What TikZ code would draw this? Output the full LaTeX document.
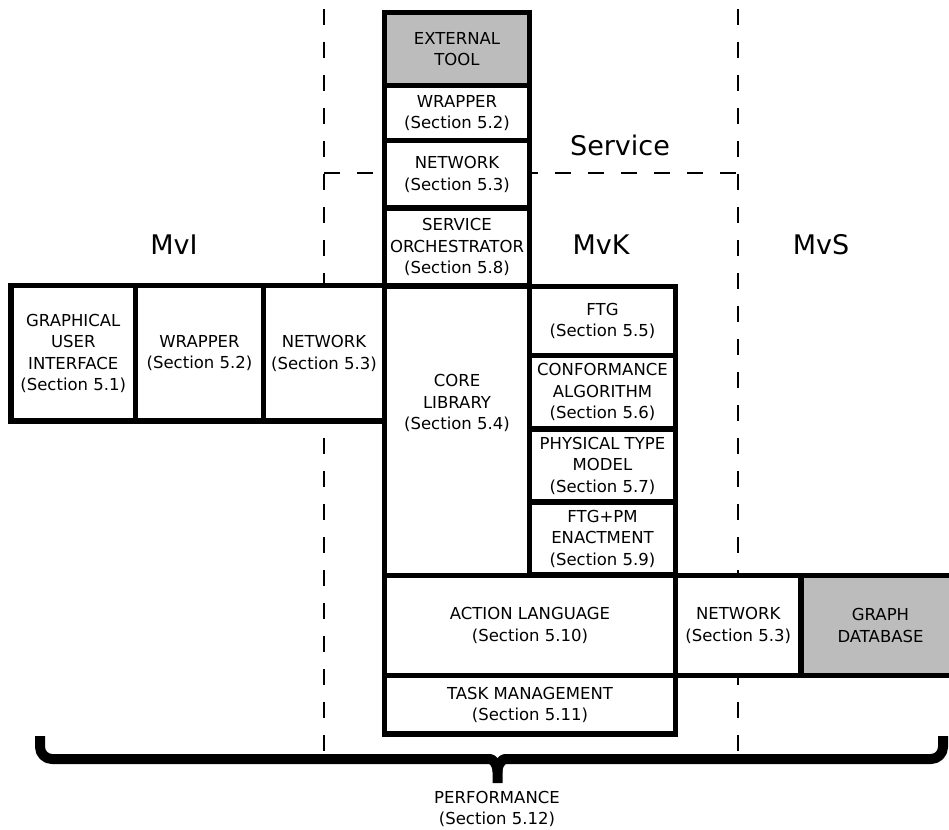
\documentclass[tikz,border=0pt]{standalone}
\usepackage{fontspec}
\setmainfont{DejaVu Sans}
\begin{document}
\begin{tikzpicture}[x=1pt,y=-1pt,
  blk/.style={draw, line width=5.5pt, fill=white, align=center, inner sep=0pt,
              font=\fontsize{16.5}{21.5}\selectfont},
  ext/.style={blk, fill=extgrey},
  txt/.style={align=center, inner sep=0pt, font=\fontsize{16.5}{21.5}\selectfont},
  zone/.style={anchor=base, inner sep=0pt, font=\fontsize{27}{30}\selectfont},
  divider/.style={line width=2.2pt, dash pattern=on 16pt off 17pt},
  bracket/.style={line width=10pt, line join=round}]
\definecolor{extgrey}{RGB}{188,188,188}
\useasboundingbox (0,0) rectangle (949,829);

% zone boundaries
\coordinate (lt) at (324,9);
\coordinate (lb) at (324,760);
\coordinate (rt) at (738,9);
\coordinate (rb) at (738,760);
\coordinate (sl) at (324,173);
\coordinate (sr) at (738,173);
\draw[divider] (lt) -- (lb);
\draw[divider] (rt) -- (rb);
\draw[divider] (sl) -- (sr);

% zone titles
\node[zone] (service) at (620,156) {Service};
\node[zone] (mvi) at (174,254) {MvI};
\node[zone] (mvk) at (601,254) {MvK};
\node[zone] (mvs) at (821,254) {MvS};

% service column
\node[ext, minimum width=145pt, minimum height=73pt] (tool) at (457,49) {EXTERNAL\\TOOL};
\node[blk, minimum width=145pt, minimum height=55pt] (wrapS) at (457,113) {WRAPPER\\(Section 5.2)};
\node[blk, minimum width=145pt, minimum height=67.5pt] (netS) at (457,174.25) {NETWORK\\(Section 5.3)};
\node[blk, minimum width=145pt, minimum height=78pt] (orch) at (457,247) {SERVICE\\ORCHESTRATOR\\(Section 5.8)};

% interface row
\node[blk, minimum width=124.5pt, minimum height=135.5pt] (gui) at (73.25,353.25) {GRAPHICAL\\USER\\INTERFACE\\(Section 5.1)};
\node[blk, minimum width=128pt, minimum height=135.5pt] (wrapI) at (199.5,353.25) {WRAPPER\\(Section 5.2)};
\node[blk, minimum width=121pt, minimum height=135.5pt] (netI) at (324,353.25) {NETWORK\\(Section 5.3)};

% kernel
\node[blk, minimum width=145pt, minimum height=289.5pt] (core) at (457,430.75) {};
\node[txt] (coretxt) at (457,403) {CORE\\LIBRARY\\(Section 5.4)};
\node[blk, minimum width=146pt, minimum height=69pt] (ftg) at (602.5,321) {FTG\\(Section 5.5)};
\node[blk, minimum width=146pt, minimum height=73.5pt] (conf) at (602.5,392.25) {CONFORMANCE\\ALGORITHM\\(Section 5.6)};
\node[blk, minimum width=146pt, minimum height=73pt] (ptm) at (602.5,465.5) {PHYSICAL TYPE\\MODEL\\(Section 5.7)};
\node[blk, minimum width=146pt, minimum height=73pt] (enact) at (602.5,538.5) {FTG+PM\\ENACTMENT\\(Section 5.9)};

% action language, storage row, task management
\node[blk, minimum width=291pt, minimum height=100pt] (action) at (530,625.5) {ACTION LANGUAGE\\(Section 5.10)};
\node[blk, minimum width=125.5pt, minimum height=100pt] (netD) at (738.25,625.5) {NETWORK\\(Section 5.3)};
\node[ext, minimum width=159pt, minimum height=100pt] (gdb) at (880.5,625.5) {GRAPH\\DATABASE};
\node[blk, minimum width=291pt, minimum height=58.5pt] (task) at (530,704.75) {TASK MANAGEMENT\\(Section 5.11)};

% performance brace
\coordinate (bl) at (40,736);
\coordinate (br) at (943,736);
\coordinate (btip) at (497.5,783);
\draw[bracket] (bl) [rounded corners=12pt] -- (40,759) -- (478,759) [sharp corners]
  .. controls (492,759) and (497.5,763) .. (497.5,772) -- (btip);
\draw[bracket] (br) [rounded corners=12pt] -- (943,759) -- (517,759) [sharp corners]
  .. controls (503,759) and (497.5,763) .. (497.5,772);
\node[txt, anchor=north] (perf) at (497,791) {PERFORMANCE\\(Section 5.12)};
\end{tikzpicture}
\end{document}
